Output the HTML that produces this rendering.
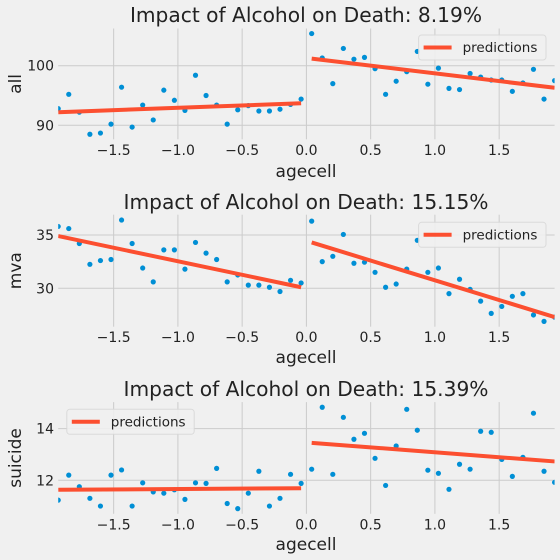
<!DOCTYPE html>
<html><head><meta charset="utf-8"><style>
html,body{margin:0;padding:0;background:#f0f0f0;}
svg{display:block;font-family:"DejaVu Sans","Liberation Sans",sans-serif;}
</style></head><body>
<svg id="chart" width="560" height="560" viewBox="0 0 560 560">
<rect width="560" height="560" fill="#f0f0f0"/>
</svg>
<script>
const agecell = [];
for (let i = 0; i < 48; i++) agecell.push(-1.9315 + i * 0.08219);
const allValues = [92.8,95.2,92.2,88.5,88.7,90.2,96.4,89.7,93.4,90.9,95.9,94.2,92.5,98.4,95.0,93.4,90.2,92.6,93.3,92.4,92.4,92.7,93.5,94.4,
105.4,101.3,97.0,102.9,101.1,101.4,99.5,95.2,97.4,99.0,102.4,96.9,99.6,96.2,96.0,98.7,98.1,97.6,97.6,95.7,97.1,99.4,94.4,97.5];
const mvaValues = [35.8,35.6,34.2,32.25,32.6,32.7,36.4,34.2,31.9,30.6,33.6,33.6,31.8,34.3,33.3,32.7,30.6,31.25,30.3,30.3,30.1,29.7,30.75,30.5,
36.3,32.5,33.0,35.05,32.35,32.45,31.5,30.1,30.4,31.8,34.5,31.5,31.9,29.5,30.85,29.9,28.8,27.65,28.3,29.25,29.5,27.5,26.9,27.3];
const suicideValues = [11.23,12.2,11.75,11.3,11.0,12.2,12.4,11.0,11.9,11.55,11.5,11.63,11.26,11.9,11.88,12.46,11.1,10.9,11.5,12.35,11.0,11.3,12.23,11.88,
12.43,14.83,12.23,14.44,13.59,13.82,12.85,11.8,13.33,14.75,13.94,12.39,12.27,11.65,12.62,12.43,13.9,13.86,12.81,12.15,12.89,14.6,12.35,11.92];
const predAllLeft = [92.2, 93.7], predAllRight = [101.2, 96.3];
const predMvaLeft = [34.9, 30.1], predMvaRight = [34.3, 27.3];
const predSuicideLeft = [11.63, 11.69], predSuicideRight = [13.45, 12.73];
const titles = ["Impact of Alcohol on Death: 8.19%", "Impact of Alcohol on Death: 15.15%", "Impact of Alcohol on Death: 15.39%"];
const yLabels = ["all", "mva", "suicide"];
const yTicksAll = [90, 100], yTicksMva = [30, 35], yTicksSuicide = [12, 14];
const xTicks = [-1.5, -1.0, -0.5, 0.0, 0.5, 1.0, 1.5];
const xTickLabels = ["\u22121.5", "\u22121.0", "\u22120.5", "0.0", "0.5", "1.0", "1.5"];

const svg = document.getElementById('chart');
const NS = 'http://www.w3.org/2000/svg';
function mk(tag, attrs, parent) {
  const e = document.createElementNS(NS, tag);
  for (const k in attrs) e.setAttribute(k, attrs[k]);
  (parent || svg).appendChild(e);
  return e;
}
const X0 = 58.2, X1 = 554.6, XMIN = -1.9315, XMAX = 1.9315;
function sx(v) { return X0 + (v - XMIN) / (XMAX - XMIN) * (X1 - X0); }

const panels = [
  {vals: allValues, pl: predAllLeft, pr: predAllRight, yt: yTicksAll, top: 28.5, bot: 139.3, ylim: [87.65, 106.25], titleY: 22, xlY: 177, legX: 418.6, legY: 35, name: 'all'},
  {vals: mvaValues, pl: predMvaLeft, pr: predMvaRight, yt: yTicksMva, top: 214.7, bot: 326.7, ylim: [26.4, 36.9], titleY: 209, xlY: 363, legX: 418.6, legY: 222.3, name: 'mva'},
  {vals: suicideValues, pl: predSuicideLeft, pr: predSuicideRight, yt: yTicksSuicide, top: 402.1, bot: 513.8, ylim: [10.7, 15.03], titleY: 396, xlY: 550, legX: 66.8, legY: 409.3, name: 'suicide'}
];

panels.forEach((p, pi) => {
  const sy = v => p.bot - (v - p.ylim[0]) / (p.ylim[1] - p.ylim[0]) * (p.bot - p.top);
  const g = mk('g', {});
  
  
  const cid = 'clip' + pi;
  const cp = mk('clipPath', {id: cid}, g);
  mk('rect', {x: X0, y: p.top, width: X1 - X0, height: p.bot - p.top}, cp);
  xTicks.forEach((t, i) => {
    const l = mk('line', {x1: sx(t), x2: sx(t), y1: p.top, y2: p.bot, stroke: '#cbcbcb', 'stroke-width': 1}, g);
    
    
    const tx = mk('text', {x: sx(t), y: p.bot + 15.5, 'text-anchor': 'middle', 'font-size': 14, fill: '#222'}, g);
    tx.textContent = xTickLabels[i];
    
    
  });
  p.yt.forEach(t => {
    const l = mk('line', {x1: X0, x2: X1, y1: sy(t), y2: sy(t), stroke: '#cbcbcb', 'stroke-width': 1}, g);
    
    
    const tx = mk('text', {x: 54, y: sy(t) + 5, 'text-anchor': 'end', 'font-size': 14, fill: '#222'}, g);
    tx.textContent = String(t);
    
    
  });
  const cg = mk('g', {'clip-path': 'url(#' + cid + ')'}, g);
  p.vals.forEach((v, i) => {
    const c = mk('circle', {cx: sx(agecell[i]), cy: sy(v), r: 2.6, fill: '#008fd5'}, cg);
    
    
  });
  const l1 = mk('line', {x1: sx(agecell[0]), y1: sy(p.pl[0]), x2: sx(agecell[23]), y2: sy(p.pl[1]), stroke: '#fc4f30', 'stroke-width': 4}, cg);
  
  
  const l2 = mk('line', {x1: sx(agecell[24]), y1: sy(p.pr[0]), x2: sx(agecell[47]), y2: sy(p.pr[1]), stroke: '#fc4f30', 'stroke-width': 4}, cg);
  
  
  const t = mk('text', {x: 306, y: p.titleY, 'text-anchor': 'middle', 'font-size': 20.2, fill: '#222'}, g);
  t.textContent = titles[pi];
  
  
  const xl = mk('text', {x: 306, y: p.xlY, 'text-anchor': 'middle', 'font-size': 17, fill: '#222'}, g);
  xl.textContent = 'agecell';
  
  
  const cy = (p.top + p.bot) / 2;
  const yl = mk('text', {x: 0, y: 0, 'text-anchor': 'middle', 'font-size': 17, fill: '#222', transform: 'translate(21,' + cy + ') rotate(-90)'}, g);
  yl.textContent = yLabels[pi];
  
  
  const lg = mk('g', {}, g);
  
  
  mk('rect', {x: p.legX, y: p.legY, width: 127.4, height: 25, rx: 3, fill: '#f0f0f0', stroke: '#d8d8d8', 'stroke-width': 1, opacity: 0.9}, lg);
  const ll = mk('line', {x1: p.legX + 5, x2: p.legX + 33, y1: p.legY + 12.5, y2: p.legY + 12.5, stroke: '#fc4f30', 'stroke-width': 4}, lg);
  
  
  const lt = mk('text', {x: p.legX + 44, y: p.legY + 17, 'font-size': 13.5, fill: '#222'}, lg);
  lt.textContent = 'predictions';
  
  
});
</script>
</body></html>
